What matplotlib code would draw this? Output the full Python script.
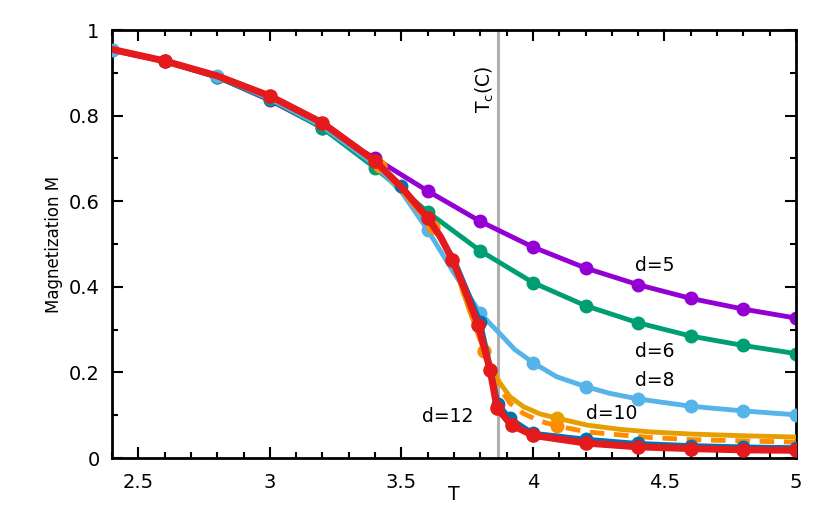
import numpy as np
from matplotlib import pyplot as plt
from matplotlib.ticker import MultipleLocator, FuncFormatter

# d=5 (purple)
T5 = [2.4, 2.6, 2.8, 3.0, 3.2, 3.4, 3.6, 3.8, 4.0, 4.2, 4.4, 4.6, 4.8, 5.0]
M5 = [0.953, 0.927, 0.890, 0.836, 0.772, 0.700, 0.624, 0.553, 0.493, 0.444, 0.405, 0.373, 0.348, 0.327]
# d=6 (green)
T6 = [2.4, 2.6, 2.8, 3.0, 3.2, 3.4, 3.6, 3.8, 4.0, 4.2, 4.4, 4.6, 4.8, 5.0]
M6 = [0.953, 0.927, 0.890, 0.838, 0.771, 0.678, 0.575, 0.484, 0.410, 0.356, 0.316, 0.285, 0.263, 0.244]
# d=8 (light blue)
T8 = [2.4, 2.6, 2.8, 3.0, 3.2, 3.4, 3.5, 3.6, 3.7, 3.8, 3.84, 3.88, 3.93, 4.0, 4.09, 4.2, 4.293, 4.4, 4.6, 4.8, 5.0]
M8 = [0.953, 0.927, 0.893, 0.840, 0.775, 0.685, 0.622, 0.533, 0.432, 0.339, 0.312, 0.287, 0.254, 0.223, 0.190, 0.167, 0.151, 0.138, 0.121, 0.110, 0.101]
mk8 = [2.4, 2.8, 3.6, 3.8, 4.0, 4.2, 4.4, 4.6, 4.8, 5.0]
# d=10 (solid and dashed)
T10 = [2.4, 2.6, 2.8, 3.0, 3.2, 3.42, 3.62, 3.7, 3.736, 3.815, 3.85, 3.875, 3.913, 3.964, 4.027, 4.093, 4.205, 4.33, 4.446, 4.6, 4.8, 5.0]
M10 = [0.955, 0.928, 0.893, 0.846, 0.783, 0.682, 0.540, 0.460, 0.385, 0.250, 0.202, 0.175, 0.143, 0.120, 0.103, 0.093, 0.077, 0.067, 0.061, 0.056, 0.052, 0.049]
T10b = [2.4, 2.6, 2.8, 3.0, 3.2, 3.42, 3.62, 3.7, 3.736, 3.815, 3.85, 3.875, 3.913, 3.964, 4.027, 4.093, 4.205, 4.33, 4.446, 4.6, 4.8, 5.0]
M10b = [0.955, 0.928, 0.893, 0.846, 0.783, 0.682, 0.540, 0.460, 0.385, 0.250, 0.195, 0.163, 0.128, 0.104, 0.086, 0.075, 0.061, 0.054, 0.048, 0.043, 0.040, 0.037]
mk10 = [3.42, 3.62, 3.815, 4.093]
# d=12 (blue and red)
T12b = [2.4, 2.6, 2.8, 3.0, 3.2, 3.4, 3.5, 3.6, 3.7, 3.8, 3.837, 3.868, 3.913, 4.0, 4.2, 4.4, 4.6, 4.8, 5.0]
M12b = [0.955, 0.928, 0.893, 0.846, 0.783, 0.694, 0.636, 0.562, 0.465, 0.318, 0.215, 0.126, 0.093, 0.058, 0.044, 0.034, 0.029, 0.026, 0.024]
mk12b = [3.5, 3.8, 3.868, 3.913, 4.0, 4.2, 4.4, 4.6, 4.8, 5.0]
T12 = [2.4, 2.6, 2.8, 3.0, 3.2, 3.4, 3.5, 3.6, 3.65, 3.694, 3.74, 3.792, 3.837, 3.864, 3.919, 4.0, 4.2, 4.4, 4.6, 4.8, 5.0]
M12 = [0.955, 0.928, 0.893, 0.846, 0.783, 0.694, 0.633, 0.561, 0.516, 0.463, 0.395, 0.311, 0.206, 0.116, 0.077, 0.053, 0.035, 0.026, 0.022, 0.019, 0.018]
mk12 = [2.6, 3.0, 3.2, 3.4, 3.6, 3.694, 3.792, 3.837, 3.864, 3.919, 4.0, 4.2, 4.4, 4.6, 4.8, 5.0]

Tc = 3.868

def idx(T, marks):
    return [T.index(t) for t in marks]

fig = plt.figure(figsize=(8.3, 5.19), dpi=100)
ax = fig.add_axes([0.135, 0.1175, 0.824, 0.8245])

ax.axvline(Tc, color='#b0b0b0', lw=2.2, zorder=1)

ax.plot(T5, M5, '-o', color='#9400d3', lw=3.5, ms=9, zorder=2)
ax.plot(T6, M6, '-o', color='#009e73', lw=3.5, ms=9, zorder=2)
ax.plot(T8, M8, '-o', color='#56b4e9', lw=3.5, ms=9, markevery=idx(T8, mk8), zorder=3)
ax.plot(T10, M10, '-o', color='#e69f00', lw=3.5, ms=9, markevery=idx(T10, mk10), zorder=4)
ax.plot(T10b, M10b, '--o', color='#ff8c00', lw=3.5, ms=9, dashes=(3, 2), markevery=idx(T10b, mk10), zorder=4)
ax.plot(T12b, M12b, '-o', color='#0072b2', lw=3.5, ms=9, markevery=idx(T12b, mk12b), zorder=5)
ax.plot(T12, M12, '-o', color='#e41a1c', lw=5, ms=9.5, markevery=idx(T12, mk12), zorder=6)

ax.text(4.465, 0.449, 'd=5', fontsize=13.5, ha='center', va='center')
ax.text(4.465, 0.248, 'd=6', fontsize=13.5, ha='center', va='center')
ax.text(4.465, 0.182, 'd=8', fontsize=13.5, ha='center', va='center')
ax.text(4.30, 0.103, 'd=10', fontsize=13.5, ha='center', va='center')
ax.text(3.677, 0.098, 'd=12', fontsize=13.5, ha='center', va='center')
ax.text(3.818, 0.862, 'T$_\\mathregular{c}$(C)', fontsize=13.5, rotation=90, ha='center', va='center')

ax.set_xlim(2.4, 5.0)
ax.set_ylim(0, 1)
ax.xaxis.set_major_locator(MultipleLocator(0.5))
ax.xaxis.set_minor_locator(MultipleLocator(0.1))
ax.yaxis.set_major_locator(MultipleLocator(0.2))
ax.yaxis.set_minor_locator(MultipleLocator(0.1))
ax.xaxis.set_major_formatter(FuncFormatter(lambda v, p: '%g' % v))
ax.yaxis.set_major_formatter(FuncFormatter(lambda v, p: '%g' % round(v, 1)))
ax.tick_params(which='both', direction='in', top=True, right=True, width=1.5, labelsize=14)
ax.tick_params(which='major', length=8)
ax.tick_params(which='minor', length=4)
ax.tick_params(axis='x', pad=11)
ax.tick_params(axis='y', pad=9)
for s in ax.spines.values():
    s.set_linewidth(2)

ax.set_xlabel('T', fontsize=13.5, labelpad=-5)
ax.set_ylabel('Magnetization M', fontsize=12)

plt.savefig('out.png', dpi=100)
